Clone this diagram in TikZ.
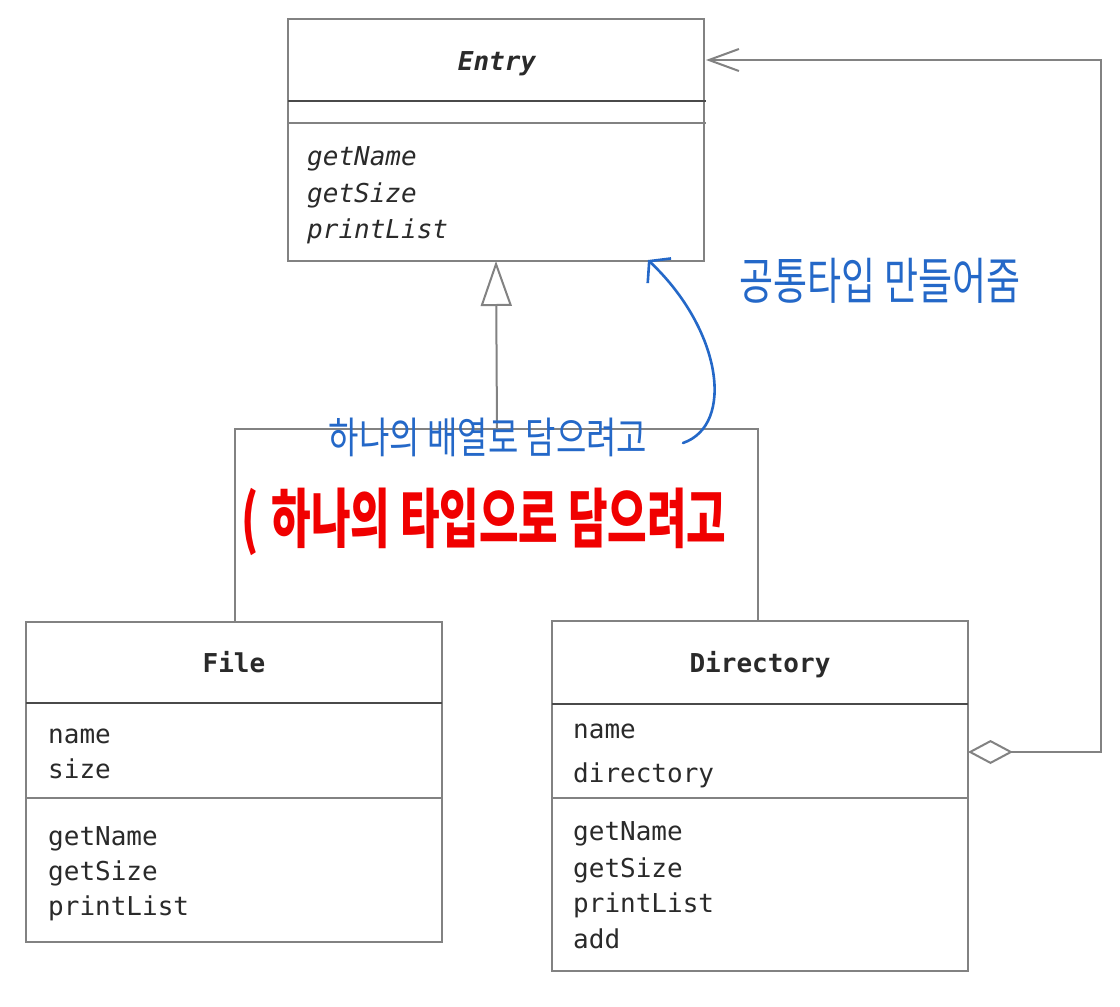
\documentclass[tikz,border=0pt]{standalone}
\usepackage{fontspec}
\setmonofont{DejaVu Sans Mono}
\newfontfamily\krfont{Noto Sans CJK KR}
\usetikzlibrary{arrows.meta}
\definecolor{boxline}{HTML}{828282}
\definecolor{sepdark}{HTML}{4A4A4A}
\definecolor{txt}{HTML}{2A2A2A}
\definecolor{penblue}{HTML}{2468C8}
\definecolor{penred}{HTML}{F00000}
\begin{document}
\begin{tikzpicture}[x=1pt,y=-1pt,
  classbox/.style={draw=boxline,line width=2pt,fill=white,anchor=north west,minimum width=416pt,inner sep=0pt,outer sep=0pt},
  namesep/.style={draw=sepdark,line width=2.8pt},
  sep/.style={draw=boxline,line width=2pt},
  member/.style={anchor=base west,font=\ttfamily\fontsize{26}{30}\selectfont,text=txt,inner sep=0pt},
  imember/.style={anchor=base west,font=\ttfamily\itshape\fontsize{26}{30}\selectfont,text=txt,inner sep=0pt},
  cname/.style={anchor=base,font=\ttfamily\bfseries\fontsize{26}{30}\selectfont,text=txt,inner sep=0pt},
  iname/.style={anchor=base,font=\ttfamily\bfseries\itshape\fontsize{26}{30}\selectfont,text=txt,inner sep=0pt},
  conn/.style={draw=boxline,line width=2pt},
  pen/.style={draw=penblue,line width=2.6pt,line cap=round,line join=round},
  bluenote/.style={text=penblue,inner sep=0pt},
  rednote/.style={text=penred,inner sep=0pt}]
\useasboundingbox[fill=white] (0,0) rectangle (1120,1007);

% ---- Entry ----
\node[classbox,minimum height=242pt] (entry) at (288,19) {};
\draw[namesep] (288,101) -- (706,101);
\draw[sep] (288,123) -- (706,123);
\node[iname] (entryname) at (497,70) {Entry};
\node[imember] (e1) at (307,165) {getName};
\node[imember] (e2) at (307,202) {getSize};
\node[imember] (e3) at (307,238) {printList};

% ---- File ----
\node[classbox,minimum height=320pt] (file) at (26,622) {};
\draw[namesep] (26,703) -- (442,703);
\draw[sep] (26,798) -- (442,798);
\node[cname] (filename) at (234,672) {File};
\node[member] (f1) at (48,743) {name};
\node[member] (f2) at (48,778) {size};
\node[member] (f3) at (48,845) {getName};
\node[member] (f4) at (48,880) {getSize};
\node[member] (f5) at (48,915) {printList};

% ---- Directory ----
\node[classbox,minimum height=350pt] (dir) at (552,621) {};
\draw[namesep] (552,704) -- (968,704);
\draw[sep] (552,798) -- (968,798);
\node[cname] (dirname) at (760,672) {Directory};
\node[member] (d1) at (573,738) {name};
\node[member] (d2) at (573,782) {directory};
\node[member] (d3) at (573,840) {getName};
\node[member] (d4) at (573,877) {getSize};
\node[member] (d5) at (573,912) {printList};
\node[member] (d6) at (573,948) {add};

% ---- generalization ----
\coordinate (jl) at (235,429);
\coordinate (jr) at (758,429);
\coordinate (jm) at (497,429);
\draw[conn] (file.north -| jl) -- (jl) -- (jr) -- (dir.north -| jr);
\draw[conn,-{Triangle[open,length=45pt,width=31pt,line width=2pt]}] (jm) -- (entry.south);

% ---- aggregation ----
\coordinate (ag) at (968,752);
\coordinate (c1) at (1101,752);
\coordinate (c2) at (1101,60);
\coordinate (ae) at (706,60);
\draw[conn,{Diamond[open,length=45pt,width=24pt,line width=2pt]}-{Straight Barb[length=30pt,width=22pt,line width=2pt]}] (ag) -- (c1) -- (c2) -- (ae);

% ---- handwritten notes ----
\coordinate (pa) at (683,443);
\coordinate (pb) at (648,260);
\draw[pen,-{Straight Barb[length=14pt,width=34pt,line width=2.6pt]}] (pa) .. controls (735,425) and (722,330) .. (pb);

\node[bluenote,font=\krfont\fontsize{37}{40}\selectfont] (note1) at (880,281) {\scalebox{1}[1.35]{공통타입 만들어줌}};
\node[bluenote,font=\krfont\fontsize{33}{36}\selectfont] (note2) at (488,437) {\scalebox{1}[1.3]{하나의 배열로 담으려고}};
\node[rednote,font=\krfont\bfseries\fontsize{43}{46}\selectfont] (note3) at (484,522) {\scalebox{1}[1.5]{(\hspace{0.3em}하나의 타입으로 담으려고}};
\end{tikzpicture}
\end{document}
